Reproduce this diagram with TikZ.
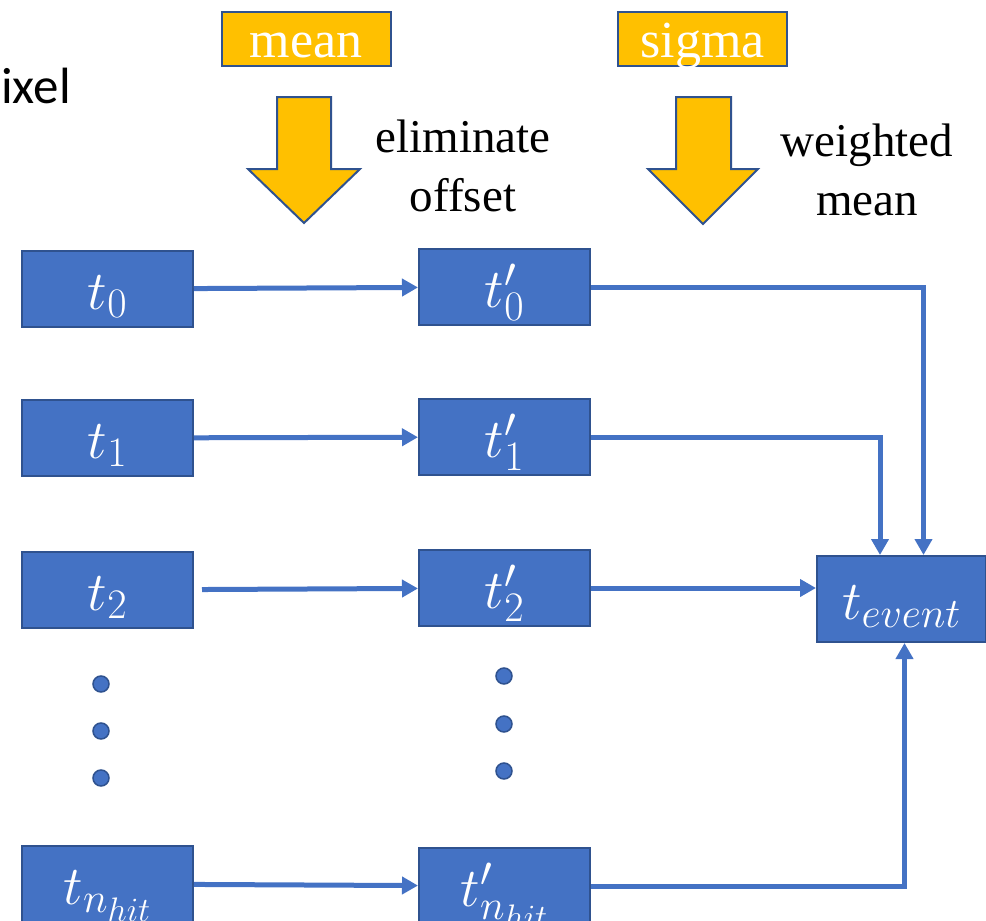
\RequirePackage{fix-cm}
\documentclass[tikz,border=0pt]{standalone}
\usepackage{fontspec}
\setmainfont{Liberation Serif}
\newfontfamily\sidefont{Carlito}
\usetikzlibrary{arrows.meta}
\DeclareMathSizes{55}{55}{42}{34}

\definecolor{boxblue}{HTML}{4472C4}
\definecolor{edgeblue}{HTML}{2F528F}
\definecolor{gold}{HTML}{FFC000}

\tikzset{
  tbox/.style={draw=edgeblue,fill=boxblue,line width=2pt,inner sep=0pt,
    minimum width=171pt,minimum height=76pt,text=white,
    text height=40pt,text depth=0pt,font=\fontsize{55}{60}\selectfont},
  parbox/.style={draw=edgeblue,fill=gold,line width=2pt,inner sep=0pt,
    minimum width=169pt,minimum height=54pt,text=white,
    text height=36pt,text depth=0pt,font=\fontsize{52}{60}\selectfont},
  fatarrow/.style={draw=edgeblue,fill=gold,line width=2pt,line join=miter},
  note/.style={align=center,inner sep=0pt,font=\fontsize{47}{59}\selectfont},
  link/.style={draw=boxblue,line width=5pt,-{Triangle[length=16pt,width=17pt]}},
  dot/.style={fill=boxblue,draw=edgeblue,line width=1.5pt}
}

\begin{document}
\begin{tikzpicture}[x=1pt,y=-1pt]
\useasboundingbox (0,0) rectangle (986,921);

\node[anchor=base west,inner sep=0pt,font=\sidefont\fontsize{51}{60}\selectfont] (pix) at (1,103) {ixel};

\node[parbox] (mean) at (306,39) {mean};
\node[parbox] (sigma) at (702.5,39) {sigma};
\draw[fatarrow] (277,97) -- (331,97) -- (331,169) -- (360,169) -- (304,223)
  -- (248,169) -- (277,169) -- cycle;
\draw[fatarrow] (676,97) -- (731,97) -- (731,169) -- (758,169) -- (703,224)
  -- (648,169) -- (676,169) -- cycle;
\node[note] (elim) at (463,166) {eliminate\\offset};
\node[note] (wmean) at (867,170) {weighted\\mean};

\node[tbox] (t0) at (107.5,289) {$t_0$};
\node[tbox] (t1) at (107.5,438) {$t_1$};
\node[tbox] (t2) at (107.5,590) {$t_2$};
\node[tbox] (tn) at (107.5,884) {$t_{n_{hit}}$};

\node[tbox] (t0p) at (504.5,287) {$t'_0$};
\node[tbox] (t1p) at (504.5,437) {$t'_1$};
\node[tbox] (t2p) at (504.5,588) {$t'_2$};
\node[tbox] (tnp) at (504.5,886) {$t'_{n_{hit}}$};

\node[tbox,minimum width=169pt,minimum height=86pt] (tev) at (901.5,599) {$t_{event}$};

\foreach \y in {684,731,778} \draw[dot] (101,\y) circle (8pt);
\foreach \y in {676,724,771} \draw[dot] (504,\y) circle (8pt);

\draw[link] (t0) -- (t0p);
\draw[link] (t1) -- (t1p);
\draw[link,shorten <=8pt] (t2) -- (t2p);
\draw[link] (tn) -- (tnp);

\draw[link] (t0p.east) -| ([xshift=22pt]tev.north);
\draw[link] (t1p.east) -| ([xshift=-21.5pt]tev.north);
\draw[link] (t2p.east) -- (t2p.east -| tev.west);
\draw[link] (tnp.east) -| ([xshift=3pt]tev.south);
\end{tikzpicture}
\end{document}
